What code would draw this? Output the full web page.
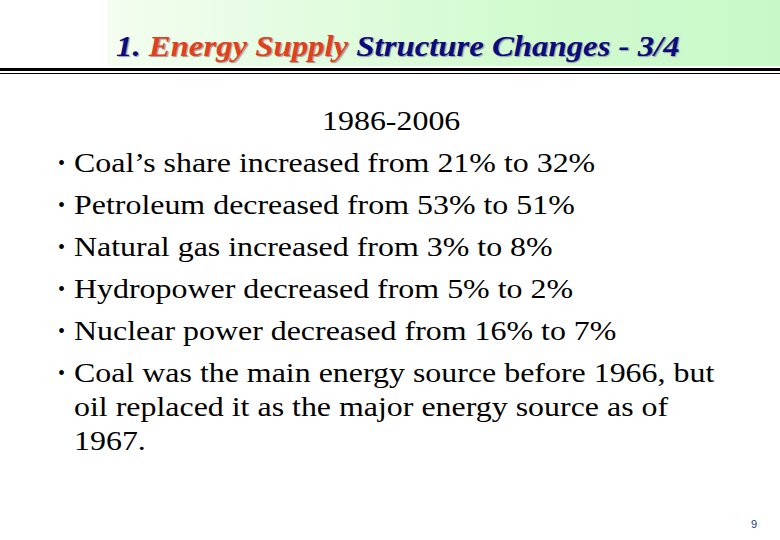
<!DOCTYPE html>
<html><head><meta charset="utf-8">
<script src="https://cdn.jsdelivr.net/npm/chart.js@4"></script>
<style>
body{margin:0;width:780px;height:540px;background:#fff;position:relative;overflow:hidden;font-family:"Liberation Serif","Times New Roman",serif}
#hdr{position:absolute;left:108px;top:0;width:672px;height:66px;background:linear-gradient(to right,#f4fdf0,#d2fbd0 60%,#c8f8c8)}
#title{position:absolute;left:116px;top:30px;font-size:29px;font-weight:bold;font-style:italic;color:#0b0b80;text-shadow:1px 1px 1px #999;white-space:nowrap;transform-origin:0 0;transform:scaleX(1.13)}
#title .r{color:#e0401c}
#l1{position:absolute;left:0;top:68px;width:780px;height:3px;background:#000}
#l2{position:absolute;left:0;top:73px;width:780px;height:1px;background:#000}
.t{position:absolute;font-size:28px;color:#000;white-space:nowrap;line-height:34px;transform-origin:0 0;transform:scaleX(1.14)}
.b{position:absolute;left:58px;font-size:20px;transform:none}
#pg{position:absolute;left:751px;top:518px;font-family:Arial,"Liberation Sans";font-size:11px;color:#1a3a8a}
</style></head><body>
<div id="hdr"></div>
<div id="title">1. <span class="r">Energy Supply</span> Structure Changes - 3/4</div>
<div id="l1"></div><div id="l2"></div>
<div id="body"></div>
<div id="pg">9</div>
<script>
const heading = "1986-2006";
const bullets = [
 ["Coal’s share increased from 21% to 32%"],
 ["Petroleum decreased from 53% to 51%"],
 ["Natural gas increased from 3% to 8%"],
 ["Hydropower decreased from 5% to 2%"],
 ["Nuclear power decreased from 16% to 7%"],
 ["Coal was the main energy source before 1966, but","oil replaced it as the major energy source as of","1967."]
];
const body=document.getElementById('body');
let h=document.createElement('div');h.className='t';h.style.left='322px';h.style.top='104px';h.textContent=heading;body.appendChild(h);
let y=146;
bullets.forEach(lines=>{
  let b=document.createElement('div');b.className='t b';b.style.top=y+'px';b.textContent='•';body.appendChild(b);
  lines.forEach((ln,i)=>{let d=document.createElement('div');d.className='t';d.style.left='74px';d.style.top=(y+i*34)+'px';d.textContent=ln;body.appendChild(d);});
  y+=42;
});
</script>
</body></html>
